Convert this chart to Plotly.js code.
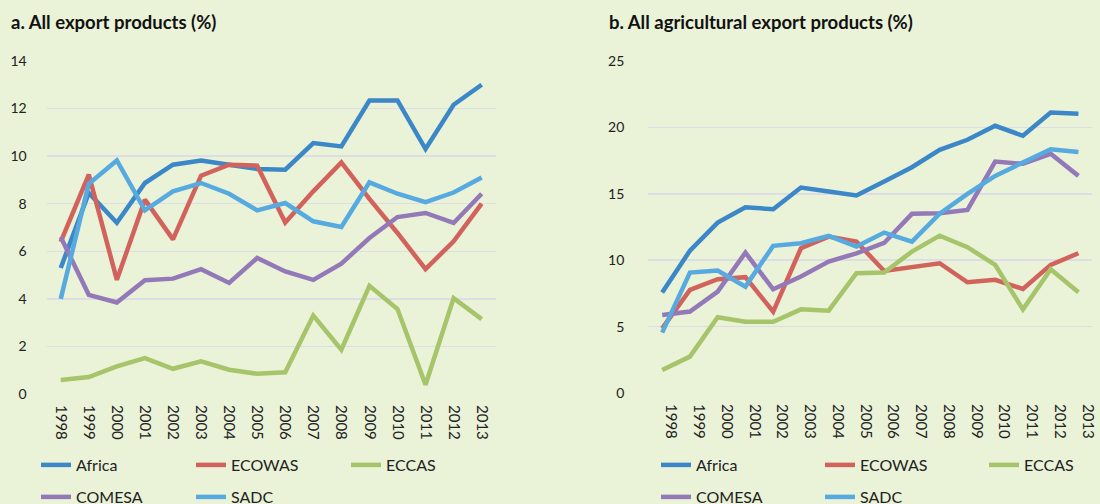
<!DOCTYPE html>
<html>
<head>
<meta charset="utf-8">
<script src="https://cdn.plot.ly/plotly-3.0.1.min.js"></script>
<style>html,body{margin:0;padding:0;background:#EAF2D8;}#chart{width:1100px;height:504px;}</style>
</head>
<body>
<div id="chart"></div>
<script>
const years = ['1998','1999','2000','2001','2002','2003','2004','2005','2006','2007','2008','2009','2010','2011','2012','2013'];
const seriesNames = ['Africa','ECOWAS','ECCAS','COMESA','SADC'];

// a. All export products (%)
const allAfrica = [5.3, 8.45, 7.2, 8.87, 9.64, 9.82, 9.64, 9.46, 9.43, 10.55, 10.41, 12.34, 12.34, 10.3, 12.16, 13.0];
const allEcowas = [6.4, 9.22, 4.8, 8.17, 6.5, 9.18, 9.64, 9.6, 7.21, 8.52, 9.74, 8.2, 6.77, 5.25, 6.42, 8.0];
const allEccas  = [0.59, 0.71, 1.16, 1.51, 1.06, 1.37, 1.02, 0.85, 0.91, 3.3, 1.86, 4.55, 3.57, 0.39, 4.03, 3.15];
const allComesa = [6.6, 4.17, 3.85, 4.78, 4.85, 5.25, 4.67, 5.72, 5.15, 4.8, 5.48, 6.56, 7.44, 7.61, 7.19, 8.42];
const allSadc   = [4.0, 8.84, 9.82, 7.72, 8.52, 8.87, 8.42, 7.72, 8.03, 7.26, 7.02, 8.9, 8.42, 8.07, 8.47, 9.1];

// b. All agricultural export products (%)
const agrAfrica = [7.56, 10.72, 12.83, 13.99, 13.84, 15.47, 15.17, 14.87, 15.93, 17.0, 18.31, 19.07, 20.12, 19.37, 21.12, 21.02];
const agrEcowas = [4.87, 7.76, 8.57, 8.72, 6.13, 10.9, 11.78, 11.4, 9.19, 9.52, 9.77, 8.34, 8.52, 7.84, 9.65, 10.52];
const agrEccas  = [1.73, 2.74, 5.7, 5.37, 5.37, 6.3, 6.2, 9.02, 9.07, 10.65, 11.85, 10.98, 9.65, 6.3, 9.32, 7.59];
const agrComesa = [5.88, 6.13, 7.63, 10.57, 7.81, 8.77, 9.9, 10.52, 11.3, 13.49, 13.54, 13.79, 17.43, 17.26, 18.01, 16.35];
const agrSadc   = [4.55, 9.07, 9.22, 8.01, 11.08, 11.28, 11.83, 11.03, 12.08, 11.4, 13.5, 15.0, 16.35, 17.31, 18.36, 18.14];

const yTicksA = [0, 2, 4, 6, 8, 10, 12, 14];
const yTicksB = [0, 5, 10, 15, 20, 25];

const colors = ['#3B87C7', '#D2625C', '#A6C46A', '#9479B8', '#56AADF'];
const bg = '#EAF2D8';
const grid = '#DCDDE5';
const font = 'Lato, "Open Sans", sans-serif';

const leftData = [allAfrica, allEcowas, allEccas, allComesa, allSadc];
const rightData = [agrAfrica, agrEcowas, agrEccas, agrComesa, agrSadc];

const traces = [];
leftData.forEach((vals, i) => {
  traces.push({
    x: years, y: vals, type: 'scatter', mode: 'lines', name: seriesNames[i],
    line: {color: colors[i], width: 4.5}, xaxis: 'x', yaxis: 'y',
    legend: i < 3 ? 'legend' : 'legend2', hoverinfo: 'skip'
  });
});
rightData.forEach((vals, i) => {
  traces.push({
    x: years, y: vals, type: 'scatter', mode: 'lines', name: seriesNames[i],
    line: {color: colors[i], width: 4.5}, xaxis: 'x2', yaxis: 'y2',
    legend: i < 3 ? 'legend3' : 'legend4', hoverinfo: 'skip'
  });
});

function legendCfg(x, y, ew) {
  return {
    orientation: 'h', xref: 'container', yref: 'container', x: x, y: y,
    xanchor: 'left', yanchor: 'middle', bgcolor: 'rgba(0,0,0,0)',
    font: {family: font, size: 16, color: '#222'},
    entrywidth: ew, entrywidthmode: 'pixels', tracegroupgap: 0, itemwidth: 30
  };
}

const xCommon = {
  type: 'category', range: [-0.5, 15.5], showgrid: false, zeroline: false, showline: false,
  ticks: '', tickangle: 90, tickfont: {family: font, size: 15, color: '#222'},
  ticklabelstandoff: 10, fixedrange: true
};
const yCommon = {
  showgrid: true, gridcolor: grid, gridwidth: 1.5, zeroline: false, showline: false,
  ticks: '', tickfont: {family: font, size: 14, color: '#222'},
  fixedrange: true
};

const titleY = (394.3 - 22) / 333;

const layout = {
  width: 1100, height: 504,
  paper_bgcolor: bg, plot_bgcolor: bg,
  margin: {l: 0, r: 0, t: 61, b: 110},
  font: {family: font, color: '#222'},
  showlegend: true,
  xaxis: Object.assign({}, xCommon, {domain: [46.7/1100, 495.7/1100], anchor: 'y'}),
  yaxis: Object.assign({}, yCommon, {range: [0, 14], tickvals: yTicksA, anchor: 'x', domain: [0, 1], ticklabelstandoff: 19}),
  xaxis2: Object.assign({}, xCommon, {domain: [648.3/1100, 1092.3/1100], anchor: 'y2', ticklabelshift: 9}),
  yaxis2: Object.assign({}, yCommon, {range: [0, 25], tickvals: yTicksB, anchor: 'x2', domain: [0.003, 1], ticklabelstandoff: 23}),
  legend: legendCfg(36/1100, 1 - 465/504, 110),
  legend2: legendCfg(36/1100, 1 - 497/504, 110),
  legend3: legendCfg(656/1100, 1 - 465/504, 119),
  legend4: legendCfg(656/1100, 1 - 497/504, 119),
  annotations: [
    {text: '<b>a. All export products (%)</b>', xref: 'paper', yref: 'paper', x: 9/1100, y: titleY,
     xanchor: 'left', yanchor: 'middle', showarrow: false, font: {family: font, size: 18.5, color: '#111'}},
    {text: '<b>b. All agricultural export products (%)</b>', xref: 'paper', yref: 'paper', x: 607/1100, y: titleY,
     xanchor: 'left', yanchor: 'middle', showarrow: false, font: {family: font, size: 18.5, color: '#111'}}
  ],
  hovermode: false
};

Plotly.newPlot('chart', traces, layout, {displayModeBar: false, staticPlot: true});
</script>
</body>
</html>
